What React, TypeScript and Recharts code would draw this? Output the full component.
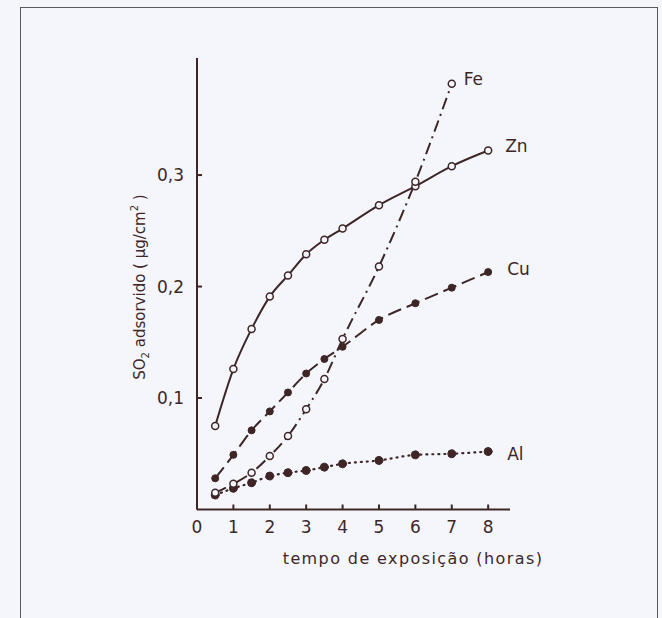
import { LineChart, Line, XAxis, YAxis, Label, LabelList } from 'recharts';

// tempo de exposição (horas)
const hours = [0.5, 1, 1.5, 2, 2.5, 3, 3.5, 4, 5, 6, 7, 8];
const hoursFe = [0.5, 1, 1.5, 2, 2.5, 3, 3.5, 4, 5, 6, 7];

// SO2 adsorvido (µg/cm²)
const zn = [0.075, 0.126, 0.162, 0.191, 0.21, 0.229, 0.242, 0.252, 0.273, 0.29, 0.308, 0.322];
const cu = [0.028, 0.049, 0.071, 0.088, 0.105, 0.122, 0.135, 0.146, 0.17, 0.185, 0.199, 0.213];
const al = [0.013, 0.019, 0.024, 0.03, 0.033, 0.035, 0.038, 0.041, 0.044, 0.049, 0.05, 0.052];
const fe = [0.015, 0.023, 0.033, 0.048, 0.066, 0.09, 0.117, 0.153, 0.218, 0.294, 0.382];

const xTicks = [0, 1, 2, 3, 4, 5, 6, 7, 8];
const yTicks = [0.1, 0.2, 0.3];

const toRows = (xs: number[], ys: number[]) => xs.map((x, i) => ({ x, y: ys[i] }));

const ink = '#3e2626';
const paper = '#f4f6fb';
const font = '"DejaVu Sans", sans-serif';

const openDot = { r: 3.5, fill: paper, stroke: ink, strokeWidth: 1.5, strokeDasharray: 'none' };
const fullDot = (r: number) => ({ r, fill: ink, stroke: ink, strokeWidth: 1, strokeDasharray: 'none' });

const endLabel = (name: string, last: number, dx: number, dy: number) => (props: any) => {
  if (props.index !== last) return null;
  return (
    <text
      x={Number(props.x) + dx}
      y={Number(props.y) + dy}
      fill={ink}
      fontSize={17}
      fontFamily={font}
      dominantBaseline="central"
    >
      {name}
    </text>
  );
};

const YTitle = (props: any) => {
  const vb = props.viewBox;
  const cx = vb.x + 3;
  const cy = 287;
  return (
    <text
      x={cx}
      y={cy}
      transform={`rotate(-90, ${cx}, ${cy})`}
      textAnchor="middle"
      dominantBaseline="central"
      fill={ink}
      fontSize={15}
      fontFamily={font}
    >
      SO<tspan baselineShift="sub" fontSize={10}>2</tspan> adsorvido ( µg/cm
      <tspan baselineShift="super" fontSize={10}>2</tspan> )
    </text>
  );
};

const XTitle = (props: any) => {
  const vb = props.viewBox;
  return (
    <text
      x={vb.x + 216}
      y={vb.y + 49}
      textAnchor="middle"
      dominantBaseline="central"
      fill={ink}
      fontSize={16}
      letterSpacing={1.4}
      fontFamily={font}
    >
      tempo de exposição (horas)
    </text>
  );
};

const tickStyle = { fill: ink, fontSize: 17, fontFamily: font };

export default function App() {
  return (
    <div
      style={{
        position: 'absolute',
        left: 0,
        top: 0,
        width: 662,
        height: 618,
        overflow: 'hidden',
        background: paper,
      }}
    >
      <div
        style={{
          position: 'absolute',
          left: 20,
          top: 7,
          width: 636,
          height: 640,
          border: '1.5px solid #5a5a5a',
        }}
      />
      <div style={{ position: 'absolute', left: 0, top: 0 }}>
        <LineChart width={662} height={618} margin={{ top: 58, right: 152, bottom: 48.5, left: 137 }}>
          <XAxis
            type="number"
            dataKey="x"
            domain={[0, 8.6]}
            ticks={xTicks}
            allowDataOverflow
            height={60}
            stroke={ink}
            strokeWidth={2}
            tickSize={-5}
            tickMargin={16}
            tick={tickStyle}
          >
            <Label content={XTitle} />
          </XAxis>
          <YAxis
            type="number"
            dataKey="y"
            domain={[0, 0.405]}
            ticks={yTicks}
            allowDataOverflow
            width={60}
            stroke={ink}
            strokeWidth={2}
            tickSize={-5}
            tickMargin={18}
            tick={tickStyle}
            tickFormatter={(v: number) => String(v).replace('.', ',')}
          >
            <Label content={YTitle} />
          </YAxis>

          <Line
            data={toRows(hours, zn)}
            dataKey="y"
            type="monotone"
            stroke={ink}
            strokeWidth={2}
            dot={openDot}
            isAnimationActive={false}
          >
            <LabelList content={endLabel('Zn', hours.length - 1, 17, -5)} />
          </Line>
          <Line
            data={toRows(hours, cu)}
            dataKey="y"
            type="monotone"
            stroke={ink}
            strokeWidth={2}
            strokeDasharray="14 6"
            dot={fullDot(3.5)}
            isAnimationActive={false}
          >
            <LabelList content={endLabel('Cu', hours.length - 1, 19, -3)} />
          </Line>
          <Line
            data={toRows(hours, al)}
            dataKey="y"
            type="monotone"
            stroke={ink}
            strokeWidth={2.2}
            strokeDasharray="1 5"
            strokeLinecap="round"
            dot={fullDot(4)}
            isAnimationActive={false}
          >
            <LabelList content={endLabel('Al', hours.length - 1, 19, 2)} />
          </Line>
          <Line
            data={toRows(hoursFe, fe)}
            dataKey="y"
            type="monotone"
            stroke={ink}
            strokeWidth={2}
            strokeDasharray="12 5 2 5"
            dot={openDot}
            isAnimationActive={false}
          >
            <LabelList content={endLabel('Fe', hoursFe.length - 1, 12, -5)} />
          </Line>
        </LineChart>
      </div>
    </div>
  );
}
